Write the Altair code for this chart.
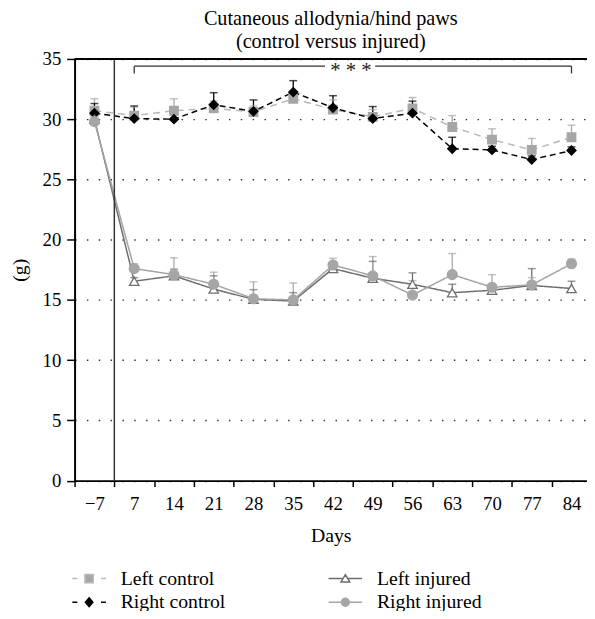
import altair as alt
import pandas as pd

# ---------------- data ----------------
day_labels = ["\u22127", "7", "14", "21", "28", "35", "42", "49", "56", "63", "70", "77", "84"]
series_names = ["Left control", "Right control", "Left injured", "Right injured"]

left_control = [30.7, 30.3, 30.7, 30.9, 30.6, 31.7, 30.8, 30.2, 30.9, 29.35, 28.3, 27.45, 28.5]
left_control_err = [1.0, 0.7, 1.0, 0.6, 0.5, 0.6, 0.8, 0.6, 0.9, 0.95, 0.9, 0.95, 1.0]
right_control = [30.5, 30.05, 30.0, 31.2, 30.65, 32.25, 30.95, 30.05, 30.5, 27.55, 27.45, 26.65, 27.4]
right_control_err = [0.8, 1.05, 0.4, 1.0, 0.95, 0.95, 1.0, 1.0, 1.0, 0.95, 0.3, 0.3, 0.3]
left_injured = [30.0, 16.55, 17.0, 15.9, 15.05, 14.9, 17.6, 16.8, 16.3, 15.6, 15.8, 16.2, 15.95]
left_injured_err = [0.3, 0.3, 0.55, 1.1, 0.8, 0.7, 0.4, 1.4, 0.95, 0.7, 0.4, 1.4, 0.6]
right_injured = [29.8, 17.6, 17.1, 16.3, 15.1, 15.0, 17.9, 17.0, 15.4, 17.1, 16.05, 16.25, 18.0]
right_injured_err = [0.4, 0.4, 1.4, 1.0, 1.4, 1.4, 0.55, 1.6, 1.2, 1.75, 1.05, 0.6, 0.4]

# significance bracket (***) between day 7 and day 84
bracket_start = [1, 7.06]
bracket_end = [5.8, 12]
bracket_level = 34.4
bracket_foot = 33.8
stars_pos = 6.45
injury_marker = [0.5]

x_domain = [-0.5, 12.39]
y_domain = [0, 35]

# ---------------- styles ----------------
FONT = "Liberation Serif"
line_colors = ["#b8b8b8", "#000000", "#6e6e6e", "#a3a3a3"]
err_colors = ["#a8a8a8", "#000000", "#6e6e6e", "#a8a8a8"]
dashes = [[7, 5], [6, 4], [1, 0], [1, 0]]
shapes = ["square", "diamond", "triangle-up", "circle"]
fills = ["#a6a6a6", "#000000", "#ffffff", "#a6a6a6"]
strokes = ["#a6a6a6", "#000000", "#6e6e6e", "#a6a6a6"]
sizes = [75, 100, 70, 85]

rows = []
for k, (name, vals, errs) in enumerate(zip(
        series_names,
        [left_control, right_control, left_injured, right_injured],
        [left_control_err, right_control_err, left_injured_err, right_injured_err])):
    for i, (v, e) in enumerate(zip(vals, errs)):
        rows.append({"series": name, "order": k, "idx": i, "value": v, "top": v + e})
df = pd.DataFrame(rows)

W, H = 519.5, 427.5

xs = alt.Scale(domain=x_domain, nice=False, zero=False)
ys = alt.Scale(domain=y_domain, nice=False)

label_expr = "[" + ",".join("'" + s + "'" for s in day_labels) + "][round(datum.value + 0.5)]"

x_axis = alt.Axis(
    values=[i - 0.5 for i in range(len(day_labels))],
    labelExpr=label_expr, labelOffset=20.15, labelFlush=False, labelOverlap=False,
    labelBound=False, grid=False, tickSize=6, tickWidth=1.5, tickColor="#000",
    domainColor="#000", domainWidth=2, labelFont=FONT, labelFontSize=19,
    labelColor="#000", labelPadding=8, title="Days", titleFont=FONT,
    titleFontSize=20, titleFontWeight="normal", titleColor="#000", titlePadding=13,
)
y_axis = alt.Axis(
    values=list(range(0, 36, 5)), grid=True, gridDash=[1.5, 10.5], gridColor="#333",
    gridWidth=1.5, tickSize=8, tickWidth=1.5, tickColor="#000", domainColor="#000",
    domainWidth=2, labelFont=FONT, labelFontSize=19, labelColor="#000",
    labelPadding=6, title="(g)", titleFont=FONT, titleFontSize=20,
    titleFontWeight="normal", titleColor="#000", titlePadding=13,
)

base = alt.Chart(df)
X = alt.X("idx:Q", scale=xs, axis=x_axis)
Y = alt.Y("value:Q", scale=ys, axis=y_axis)

lines = base.mark_line(strokeWidth=1.5).encode(
    x=X, y=Y,
    stroke=alt.Stroke("series:N", scale=alt.Scale(domain=series_names, range=line_colors), legend=None),
    strokeDash=alt.StrokeDash("series:N", scale=alt.Scale(domain=series_names, range=dashes), legend=None),
    detail="series:N",
    order="idx:Q",
)

err_rule = base.mark_rule(strokeWidth=1.3).encode(
    x="idx:Q", y="value:Q", y2="top:Q",
    stroke=alt.Stroke("series:N", scale=alt.Scale(domain=series_names, range=err_colors), legend=None),
)
err_cap = base.mark_tick(orient="horizontal", size=8, thickness=1.5).encode(
    x="idx:Q", y="top:Q",
    color=alt.Color("series:N", scale=alt.Scale(domain=series_names, range=err_colors), legend=None),
)

points = base.mark_point(opacity=1, strokeWidth=1.3).encode(
    x="idx:Q", y="value:Q",
    shape=alt.Shape("series:N", scale=alt.Scale(domain=series_names, range=shapes), legend=None),
    fill=alt.Fill("series:N", scale=alt.Scale(domain=series_names, range=fills), legend=None),
    stroke=alt.Stroke("series:N", scale=alt.Scale(domain=series_names, range=strokes), legend=None),
    size=alt.Size("series:O", scale=alt.Scale(domain=series_names, range=sizes), legend=None),
    order="order:Q",
)

# frame line on top
top_frame = alt.Chart(pd.DataFrame({"y": [y_domain[1]]})).mark_rule(color="#000", strokeWidth=2).encode(
    y="y:Q", x=alt.datum(x_domain[0]), x2=alt.datum(x_domain[1]))

divider = alt.Chart(pd.DataFrame({"x": injury_marker})).mark_rule(color="#333", strokeWidth=1.5).encode(
    x="x:Q", y=alt.datum(y_domain[0]), y2=alt.datum(y_domain[1]))

bracket_h = alt.Chart(pd.DataFrame({"x": bracket_start, "x2": bracket_end,
                                    "y": [bracket_level] * 2})).mark_rule(color="#333", strokeWidth=1.3).encode(
    x="x:Q", x2="x2:Q", y="y:Q")
bracket_v = alt.Chart(pd.DataFrame({"x": [bracket_start[0], bracket_end[1]],
                                    "y": [bracket_foot] * 2, "y2": [bracket_level] * 2})).mark_rule(
    color="#333", strokeWidth=1.3).encode(x="x:Q", y="y:Q", y2="y2:Q")
stars = alt.Chart(pd.DataFrame({"x": [stars_pos], "y": [bracket_level], "t": ["* * *"]})).mark_text(
    font=FONT, fontSize=21, baseline="alphabetic", dy=11, color="#222").encode(
    x="x:Q", y="y:Q", text="t:N")

# legend (two blocks of two rows, line + marker glyphs)
p_lc = "M-1.7,0H-1.2M1.2,0H1.7M-0.42,-0.42H0.42V0.42H-0.42Z"
p_rc = "M-1.7,0H-1.2M1.2,0H1.7M0,-0.45L0.38,0L0,0.45L-0.38,0Z"
p_li = "M-1.7,0H-0.24M0.24,0H1.7M0,-0.4L0.44,0.34H-0.44Z"
p_ri = "M-1.7,0H1.7M-0.4,0A0.4,0.4 0 1,0 0.4,0A0.4,0.4 0 1,0 -0.4,0Z"
legend_paths = [p_lc, p_rc, p_li, p_ri]
legend_fill = ["#a6a6a6", "#000000", "#ffffff", "#a6a6a6"]
legend_stroke = ["#b8b8b8", "#000000", "#6e6e6e", "#a6a6a6"]


def legend_layer(field, names, paths, fl, st, lx, ly):
    lg = alt.Legend(orient="none", legendX=lx, legendY=ly, title=None, symbolSize=400,
                    symbolStrokeWidth=1.5, labelFont=FONT, labelFontSize=20, labelColor="#000",
                    labelOffset=21, rowPadding=3, padding=0, symbolOpacity=1, labelLimit=300)
    d = pd.DataFrame({field: names})
    return alt.Chart(d).transform_filter("false").mark_point(filled=True).encode(
        shape=alt.Shape(f"{field}:N", scale=alt.Scale(domain=names, range=paths), legend=lg),
        fill=alt.Fill(f"{field}:N", scale=alt.Scale(domain=names, range=fl), legend=lg),
        stroke=alt.Stroke(f"{field}:N", scale=alt.Scale(domain=names, range=st), legend=lg),
    )


leg_c = legend_layer("ctrl", series_names[:2], legend_paths[:2], legend_fill[:2], legend_stroke[:2], 3.75, 515.8)
leg_i = legend_layer("inj", series_names[2:], legend_paths[2:], legend_fill[2:], legend_stroke[2:], 263.5, 515.8)

chart = alt.layer(
    lines, divider, bracket_h, bracket_v, stars, err_rule, err_cap, points, top_frame, leg_c, leg_i
).resolve_scale(
    stroke="independent", fill="independent", shape="independent", color="independent",
    size="independent", strokeDash="independent"
).properties(
    width=W, height=H,
    autosize=alt.AutoSizeParams(type="none"),
    padding={"left": 67.5, "top": 47.5, "right": 0, "bottom": 128},
    title=alt.TitleParams(["Cutaneous allodynia/hind paws", "(control versus injured)"],
                          font=FONT, fontSize=20.5, fontWeight="normal", lineHeight=23,
                          offset=6, dy=8, anchor="middle", color="#000"),
).configure_view(stroke=None)

chart.save("out.html", embed_options={"renderer": "svg", "actions": False})
